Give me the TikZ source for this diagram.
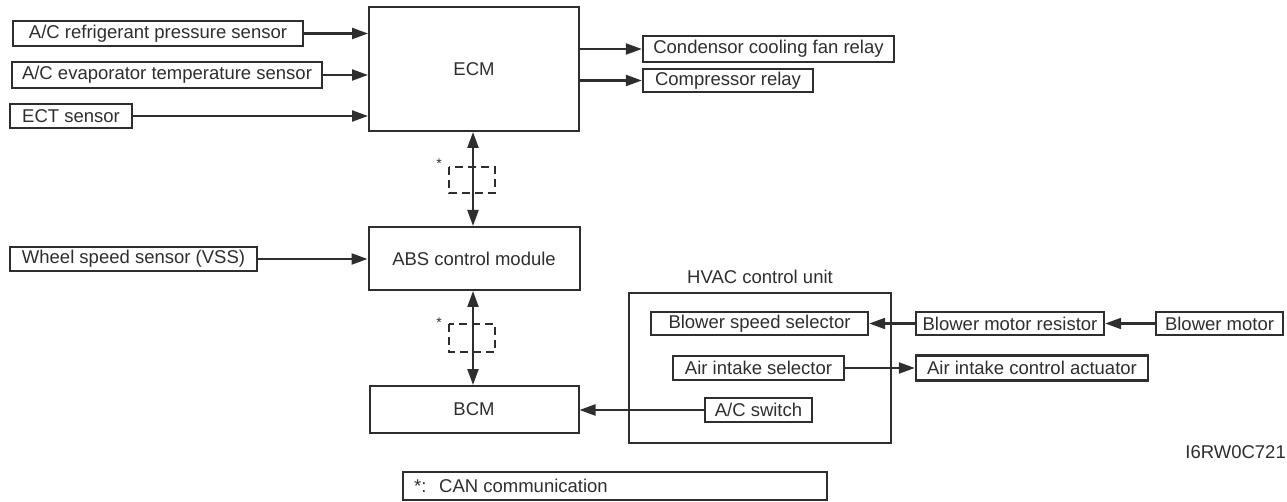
\documentclass[tikz,border=0pt]{standalone}
\usepackage{fontspec}
\setmainfont{Liberation Sans}
\usetikzlibrary{arrows.meta}
\definecolor{ink}{HTML}{2E2E2E}
\tikzset{
  box/.style={draw=ink, line width=2.4pt, inner sep=0pt, text=ink, font=\fontsize{18.5}{20}\selectfont},
  bigbox/.style={draw=ink, line width=2pt, inner sep=0pt, text=ink, font=\fontsize{18.5}{20}\selectfont},
  arr/.style={draw=ink, line width=2.2pt, -{Triangle[length=16pt,width=11pt]}},
  darr/.style={draw=ink, line width=2.2pt, {Triangle[length=16pt,width=11pt]}-{Triangle[length=16pt,width=11pt]}},
  canbox/.style={draw=ink, line width=2.8pt, dash pattern=on 8pt off 5pt},
  star/.style={text=ink, font=\fontsize{14}{14}\selectfont, inner sep=0pt},
  lbl/.style={text=ink, font=\fontsize{18.5}{20}\selectfont, inner sep=0pt}
}
\begin{document}
\begin{tikzpicture}[x=1pt,y=-1pt]
\useasboundingbox (0,0) rectangle (1287,502);
% ECM and inputs
\node[bigbox, minimum width=210pt, minimum height=124pt] (ecm) at (474,69) {ECM};
\node[box, minimum width=290pt, minimum height=25pt] (rps) at (158,33.5) {A/C refrigerant pressure sensor};
\node[box, minimum width=310pt, minimum height=26pt] (evap) at (167,75) {A/C evaporator temperature sensor};
\node[box, minimum width=122pt, minimum height=24pt] (ect) at (71,116) {ECT sensor};
\draw[arr] (rps.east) -- (rps.east -| ecm.west);
\draw[arr] (evap.east) -- (evap.east -| ecm.west);
\draw[arr] (ect.east) -- (ect.east -| ecm.west);
% ECM outputs
\node[box, minimum width=251pt, minimum height=26pt] (cond) at (768.5,49) {Condensor cooling fan relay};
\node[box, minimum width=170pt, minimum height=23pt] (comp) at (728,80.5) {Compressor relay};
\draw[arr] (cond.west -| ecm.east) -- (cond.west);
\draw[arr] (comp.west -| ecm.east) -- (comp.west);
% ABS
\node[bigbox, minimum width=211pt, minimum height=63pt] (abs) at (474,258.5) {ABS control module};
\node[box, minimum width=247pt, minimum height=24pt] (wss) at (133.5,259) {Wheel speed sensor (VSS)};
\draw[arr] (wss.east) -- (wss.east -| abs.west);
% BCM
\node[bigbox, minimum width=209pt, minimum height=47pt] (bcm) at (474,409.5) {BCM};
% CAN links
\coordinate (c1a) at (449,167);
\coordinate (c1b) at (495,193);
\coordinate (c2a) at (449,324);
\coordinate (c2b) at (495,352);
\draw[canbox] (c1a) rectangle (c1b);
\draw[canbox] (c2a) rectangle (c2b);
\node[star] (s1) at (439,164) {*};
\node[star] (s2) at (439,323) {*};
\draw[darr] (473,0 |- ecm.south) -- (473,0 |- abs.north);
\draw[darr] (473,0 |- abs.south) -- (473,0 |- bcm.north);
% HVAC
\node[bigbox, minimum width=262pt, minimum height=150pt] (hvac) at (760,368) {};
\node[lbl] (hvaclbl) at (760,277) {HVAC control unit};
\node[box, minimum width=217pt, minimum height=23pt] (bss) at (759.5,323.5) {Blower speed selector};
\node[box, minimum width=188pt, minimum height=23pt] (bmr) at (1010,323.5) {Blower motor resistor};
\node[box, minimum width=127pt, minimum height=23pt] (bm) at (1219.5,323.5) {Blower motor};
\node[box, minimum width=171pt, minimum height=24pt] (ais) at (758.5,368) {Air intake selector};
\node[box, minimum width=232pt, minimum height=25pt] (aica) at (1032,368) {Air intake control actuator};
\node[box, minimum width=107pt, minimum height=24pt] (acs) at (758.5,410) {A/C switch};
\draw[arr] (bmr.west) -- (bss.east);
\draw[arr] (bm.west) -- (bmr.east);
\draw[arr] (ais.east) -- (aica.west);
\draw[arr] (acs.west) -- (acs.west -| bcm.east);
% code
\node[lbl, anchor=east] (code) at (1286,452) {I6RW0C721};
% legend
\node[box, minimum width=424pt, minimum height=28pt] (can) at (615,486) {};
\node[lbl, anchor=west] (canstar) at (414,486) {*:};
\node[lbl, anchor=west] (cantxt) at (439,486) {CAN communication};
\end{tikzpicture}
\end{document}
